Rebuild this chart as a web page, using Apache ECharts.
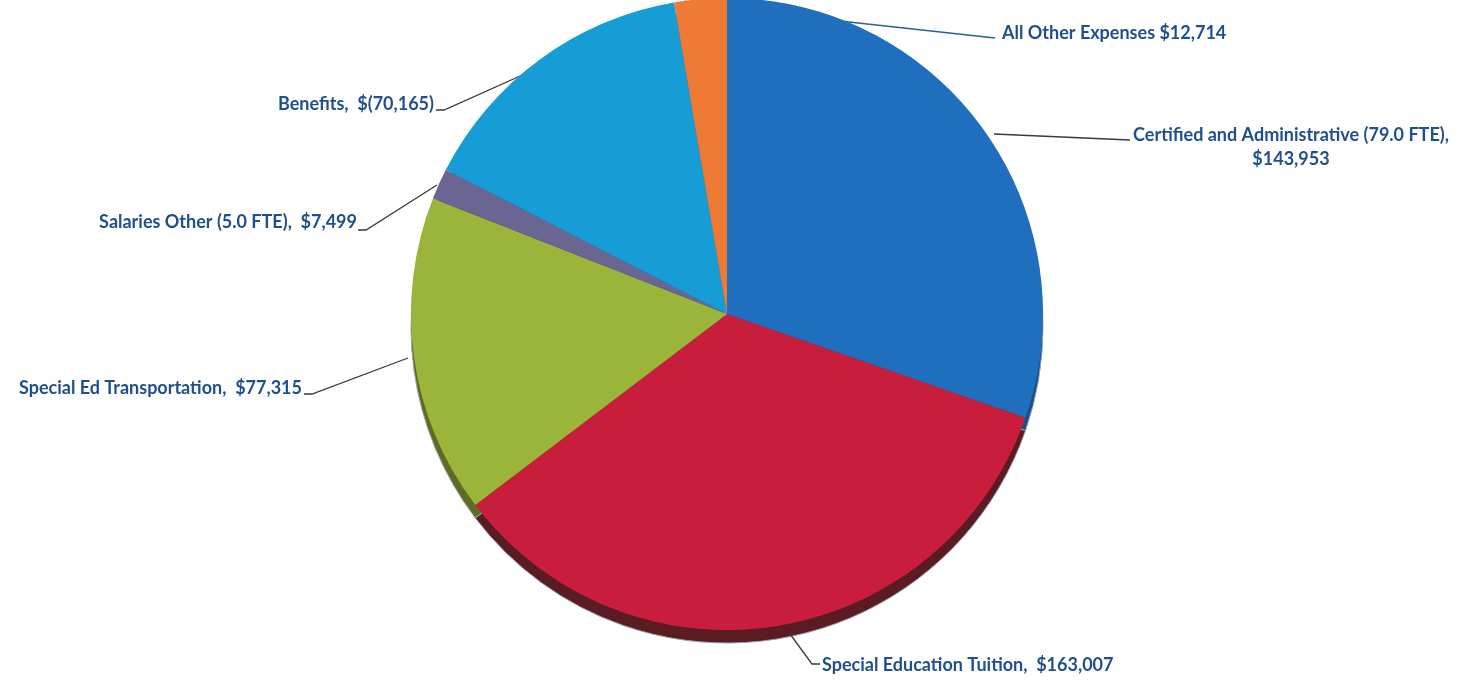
<!DOCTYPE html>
<html>
<head>
<meta charset="utf-8">
<script src="https://cdn.jsdelivr.net/npm/echarts@6/dist/echarts.min.js"></script>
<style>
html,body{margin:0;padding:0;background:#fff;}
#chart{width:1467px;height:683px;}
</style>
</head>
<body>
<div id="chart"></div>
<script>
// ---- data ----
const categories = [
  'Certified and Administrative (79.0 FTE)',
  'Special Education Tuition',
  'Special Ed Transportation',
  'Salaries Other (5.0 FTE)',
  'Benefits',
  'All Other Expenses'
];
const values = [143953, 163007, 77315, 7499, 70165, 12714];
const displayLabels = [
  'Certified and Administrative (79.0 FTE),\n$143,953',
  'Special Education Tuition,  $163,007',
  'Special Ed Transportation,  $77,315',
  'Salaries Other (5.0 FTE),  $7,499',
  'Benefits,  $(70,165)',
  'All Other Expenses $12,714'
];
const colors = ['#1f6fbe', '#c81e3c', '#9ab53a', '#6b6594', '#179dd6', '#ee7a35'];
const sideColors = ['#1a4f86', '#5a1c22', '#5d6c22', '#453f63', '#10688f', '#9c4d20'];

// ---- layout (label positions, not data) ----
const labelPos = [
  {x: 1291, y: 123, align: 'center', line: [[994, 134], [1130, 140]]},
  {x: 822, y: 665, align: 'left', line: [[790, 634], [812, 664], [820, 664]]},
  {x: 302, y: 388, align: 'right', line: [[408, 358], [312, 394], [304, 394]]},
  {x: 357, y: 222, align: 'right', line: [[437, 185], [366, 230], [358, 230]]},
  {x: 434, y: 104, align: 'right', line: [[538, 68], [444, 110], [436, 110]]},
  {x: 1002, y: 33, align: 'left', line: [[712, 7], [995, 38]]}
];

const chart = echarts.init(document.getElementById('chart'));
const cx = 727, cy = 314, R = 316;

chart.setOption({
  animation: false,
  series: [
    {
      type: 'pie',
      silent: true,
      center: [cx, cy + 13],
      radius: [0, R],
      startAngle: 90,
      clockwise: true,
      label: {show: false},
      labelLine: {show: false},
      itemStyle: {borderWidth: 1, borderColor: '#9aa3b5'},
      data: values.map((v, i) => ({value: v, name: categories[i], itemStyle: {color: sideColors[i]}})),
      z: 1
    },
    {
      type: 'pie',
      center: [cx, cy],
      radius: [0, R],
      startAngle: 90,
      clockwise: true,
      avoidLabelOverlap: false,
      itemStyle: {borderWidth: 0},
      label: {
        show: true,
        color: '#1f4f8e',
        fontFamily: 'Lato',
        fontWeight: 'bold',
        fontSize: 18,
        lineHeight: 24,
        formatter: p => displayLabels[p.dataIndex]
      },
      labelLine: {show: true, lineStyle: {color: '#3a3a3a', width: 1.3}},
      labelLayout: function (params) {
        const lp = labelPos[params.dataIndex];
        return {
          x: lp.x,
          y: lp.y,
          align: lp.align,
          verticalAlign: params.dataIndex === 0 ? 'top' : 'middle',
          labelLinePoints: lp.line
        };
      },
      data: values.map((v, i) => ({value: v, name: categories[i], itemStyle: {color: colors[i]},
        labelLine: i === 5 ? {lineStyle: {color: '#2a5f9a'}} : undefined})),
      z: 2
    }
  ]
});
</script>
</body>
</html>
